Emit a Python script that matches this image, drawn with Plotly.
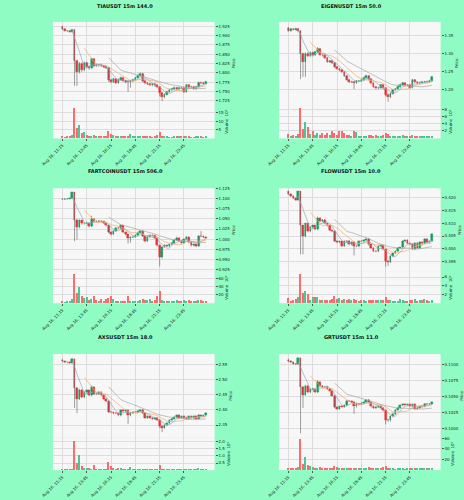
import plotly.graph_objects as go
import pandas as pd

# ---------------- data ----------------
titles = ["TIAUSDT 15m 144.0", "EIGENUSDT 15m 50.0", "FARTCOINUSDT 15m 506.0",
          "FLOWUSDT 15m 10.0", "AXSUSDT 15m 18.0", "GRTUSDT 15m 11.0"]
time_labels = ["Aug 16, 11:15", "Aug 16, 13:45", "Aug 16, 16:15",
               "Aug 16, 18:45", "Aug 16, 21:15", "Aug 16, 23:45"]
time_label_idx = [0, 10, 20, 30, 40, 50]

tia_open = [1.923,1.917,1.913,1.912,1.910,1.915,1.831,1.803,1.825,1.807,1.827,1.816,1.812,1.837,1.819,1.822,1.820,1.819,1.816,1.813,1.780,1.776,1.783,1.774,1.782,1.787,1.779,1.776,1.775,1.778,1.782,1.787,1.792,1.798,1.778,1.773,1.771,1.767,1.770,1.767,1.762,1.745,1.736,1.742,1.749,1.754,1.756,1.760,1.756,1.760,1.759,1.749,1.767,1.761,1.762,1.758,1.762,1.774,1.773,1.771]
tia_close = [1.917,1.913,1.912,1.910,1.915,1.831,1.803,1.825,1.807,1.827,1.816,1.812,1.837,1.819,1.822,1.820,1.819,1.816,1.813,1.780,1.776,1.783,1.774,1.782,1.787,1.779,1.776,1.775,1.778,1.782,1.787,1.792,1.798,1.778,1.773,1.771,1.767,1.770,1.767,1.762,1.745,1.736,1.742,1.749,1.754,1.756,1.760,1.756,1.760,1.759,1.749,1.767,1.761,1.762,1.758,1.762,1.774,1.773,1.771,1.776]
tia_high = [1.926,1.919,1.915,1.914,1.918,1.917,1.835,1.829,1.828,1.830,1.830,1.820,1.840,1.839,1.825,1.824,1.823,1.821,1.818,1.815,1.783,1.786,1.785,1.785,1.790,1.789,1.781,1.779,1.781,1.784,1.789,1.794,1.801,1.800,1.780,1.775,1.773,1.773,1.772,1.769,1.764,1.748,1.745,1.752,1.756,1.759,1.763,1.762,1.763,1.762,1.761,1.770,1.769,1.765,1.764,1.765,1.777,1.777,1.775,1.779]
tia_low = [1.915,1.911,1.910,1.908,1.908,1.765,1.765,1.798,1.802,1.804,1.812,1.808,1.810,1.815,1.816,1.817,1.816,1.813,1.810,1.776,1.772,1.773,1.770,1.771,1.780,1.776,1.772,1.749,1.760,1.775,1.780,1.785,1.790,1.775,1.769,1.767,1.764,1.764,1.763,1.758,1.737,1.724,1.732,1.740,1.747,1.751,1.754,1.753,1.754,1.756,1.746,1.747,1.758,1.758,1.755,1.755,1.760,1.770,1.768,1.769]
tia_vol = [0.8,0.5,0.7,1.0,1.6,18,5.6,7.6,3.0,3.6,1.6,1.4,1.2,1.8,0.8,1.0,1.0,0.9,1.0,4.0,2.4,1.6,1.4,1.0,1.2,0.8,0.7,0.8,2.2,1.0,0.6,0.8,0.8,1.2,1.0,0.7,0.6,0.5,0.8,1.5,3.6,1.2,0.8,0.6,0.5,0.5,0.7,0.8,0.6,0.8,0.9,1.0,0.6,0.5,0.5,0.6,1.0,0.6,0.5,0.7]

eigen_open = [1.369,1.362,1.367,1.366,1.368,1.361,1.299,1.276,1.299,1.293,1.302,1.294,1.304,1.313,1.296,1.294,1.287,1.276,1.278,1.273,1.262,1.257,1.253,1.248,1.237,1.227,1.220,1.220,1.218,1.222,1.223,1.225,1.232,1.237,1.228,1.216,1.207,1.202,1.204,1.211,1.202,1.185,1.179,1.188,1.197,1.200,1.207,1.213,1.216,1.211,1.211,1.204,1.225,1.220,1.216,1.218,1.220,1.220,1.221,1.223]
eigen_close = [1.362,1.367,1.366,1.368,1.361,1.299,1.276,1.299,1.293,1.302,1.294,1.304,1.313,1.296,1.294,1.287,1.276,1.278,1.273,1.262,1.257,1.253,1.248,1.237,1.227,1.220,1.220,1.218,1.222,1.223,1.225,1.232,1.237,1.228,1.216,1.207,1.202,1.204,1.211,1.202,1.185,1.179,1.188,1.197,1.200,1.207,1.213,1.216,1.211,1.211,1.204,1.225,1.220,1.216,1.218,1.220,1.220,1.221,1.223,1.234]
eigen_high = [1.372,1.369,1.369,1.371,1.370,1.364,1.302,1.302,1.303,1.305,1.304,1.307,1.317,1.315,1.299,1.296,1.289,1.281,1.280,1.275,1.264,1.259,1.255,1.250,1.239,1.229,1.223,1.222,1.225,1.225,1.228,1.234,1.240,1.239,1.230,1.218,1.209,1.207,1.214,1.213,1.204,1.188,1.191,1.200,1.203,1.210,1.216,1.219,1.218,1.214,1.213,1.228,1.227,1.222,1.221,1.223,1.223,1.224,1.226,1.237]
eigen_low = [1.360,1.360,1.364,1.364,1.358,1.228,1.234,1.234,1.289,1.290,1.291,1.292,1.301,1.293,1.291,1.284,1.273,1.273,1.270,1.259,1.254,1.250,1.245,1.234,1.224,1.217,1.217,1.200,1.215,1.219,1.220,1.223,1.229,1.225,1.213,1.204,1.199,1.199,1.201,1.199,1.180,1.165,1.175,1.185,1.194,1.198,1.204,1.210,1.208,1.208,1.201,1.202,1.217,1.213,1.213,1.215,1.217,1.218,1.218,1.220]
eigen_vol = [1.0,0.5,0.8,0.6,1.0,8.5,2.4,4.4,3.0,1.0,1.8,0.8,1.4,0.8,1.4,0.8,1.4,0.8,1.8,1.2,0.9,1.8,2.0,1.4,0.8,0.9,0.5,1.8,1.6,0.6,0.6,0.6,0.6,0.8,0.8,0.6,0.8,0.6,0.6,0.7,1.2,1.0,0.5,0.5,0.6,0.4,0.6,0.7,0.6,0.5,0.6,0.8,0.6,0.5,0.5,0.6,0.5,0.5,0.6,0.5]

fart_open = [1.0995,1.0985,1.099,1.100,1.101,1.1155,1.048,1.0295,1.0467,1.0385,1.0388,1.040,1.032,1.050,1.0442,1.044,1.0445,1.0434,1.040,1.0336,1.0172,1.0114,1.0196,1.0278,1.027,1.0336,1.0172,1.0114,1.0032,1.0049,1.0057,1.009,1.0155,1.0196,1.0073,0.995,1.0057,1.009,1.0088,1.0032,0.9844,0.954,0.981,0.9844,0.9827,0.9868,0.9909,0.9975,1.0032,0.995,0.9909,0.9991,1.0057,0.9926,0.9844,0.9868,0.9827,1.0073,1.007,1.0057]
fart_close = [1.0985,1.099,1.100,1.101,1.1155,1.048,1.0295,1.0467,1.0385,1.0388,1.040,1.032,1.050,1.0442,1.044,1.0445,1.0434,1.040,1.0336,1.0172,1.0114,1.0196,1.0278,1.027,1.0336,1.0172,1.0114,1.0032,1.0049,1.0057,1.009,1.0155,1.0196,1.0073,0.995,1.0057,1.009,1.0088,1.0032,0.9844,0.954,0.981,0.9844,0.9827,0.9868,0.9909,0.9975,1.0032,0.995,0.9909,0.9991,1.0057,0.9926,0.9844,0.9868,0.9827,1.0073,1.007,1.0057,1.0032]
fart_high = [1.101,1.101,1.102,1.103,1.118,1.1165,1.050,1.049,1.048,1.041,1.043,1.042,1.058,1.052,1.046,1.047,1.046,1.045,1.042,1.035,1.019,1.022,1.030,1.030,1.036,1.035,1.019,1.013,1.007,1.008,1.011,1.018,1.022,1.021,1.009,1.008,1.011,1.011,1.010,1.005,0.986,0.983,0.987,0.986,0.989,0.993,1.000,1.006,1.005,0.997,1.002,1.008,1.007,0.994,0.989,0.988,1.010,1.0196,1.009,1.007]
fart_low = [1.097,1.097,1.098,1.099,1.099,0.995,0.999,1.027,1.036,1.036,1.037,1.029,1.030,1.042,1.042,1.042,1.041,1.038,1.031,1.015,1.009,1.010,1.018,1.025,1.025,1.015,1.009,0.989,0.991,1.003,1.004,1.007,1.014,1.005,0.992,0.993,1.004,1.006,1.001,0.982,0.932,0.952,0.979,0.980,0.981,0.985,0.989,0.996,0.993,0.989,0.989,0.997,0.990,0.982,0.982,0.980,0.981,1.005,1.003,1.001]
fart_vol = [3,1,2,2,8,72,24,40,16,12,14,6,8,16,6,4,8,4,8,12,16,8,4,4,4,4,4,16,4,2,2,4,6,8,6,6,8,4,6,16,28,6,4,4,3,2,4,6,4,3,6,4,6,4,3,2,6,6,4,4]

flow_open = [0.4222,0.4213,0.4205,0.4196,0.4190,0.4222,0.4090,0.4049,0.4098,0.4068,0.4085,0.4090,0.4075,0.4119,0.4107,0.4113,0.4098,0.4090,0.4072,0.4068,0.4030,0.4026,0.4029,0.4011,0.4030,0.4028,0.4017,0.4026,0.4011,0.4010,0.4030,0.4029,0.4034,0.4039,0.4017,0.4004,0.3991,0.3990,0.4011,0.4013,0.3998,0.3953,0.3949,0.3972,0.3982,0.3991,0.4004,0.4005,0.4030,0.4034,0.4021,0.4017,0.3998,0.4023,0.4004,0.4026,0.4021,0.4039,0.4026,0.4030]
flow_close = [0.4213,0.4205,0.4196,0.4190,0.4222,0.4090,0.4049,0.4098,0.4068,0.4085,0.4090,0.4075,0.4119,0.4107,0.4113,0.4098,0.4090,0.4072,0.4068,0.4030,0.4026,0.4029,0.4011,0.4030,0.4028,0.4017,0.4026,0.4011,0.4010,0.4030,0.4029,0.4034,0.4039,0.4017,0.4004,0.3991,0.3990,0.4011,0.4013,0.3998,0.3953,0.3949,0.3972,0.3982,0.3991,0.4004,0.4005,0.4030,0.4034,0.4021,0.4017,0.3998,0.4023,0.4004,0.4026,0.4021,0.4039,0.4026,0.4030,0.4055]
flow_high = [0.4225,0.4216,0.4208,0.4199,0.4225,0.4224,0.4093,0.4101,0.4100,0.4088,0.4093,0.4093,0.4126,0.4122,0.4116,0.4116,0.4101,0.4093,0.4075,0.4071,0.4033,0.4032,0.4032,0.4033,0.4033,0.4035,0.4029,0.4029,0.4014,0.4033,0.4033,0.4037,0.4042,0.4042,0.4020,0.4007,0.3994,0.4014,0.4016,0.4016,0.4001,0.3956,0.3975,0.3985,0.3994,0.4007,0.4008,0.4033,0.4037,0.4037,0.4024,0.4020,0.4026,0.4026,0.4029,0.4029,0.4042,0.4042,0.4033,0.4062]
flow_low = [0.4210,0.4202,0.4193,0.4187,0.4187,0.3979,0.3979,0.4045,0.4065,0.4065,0.4082,0.4072,0.4072,0.4104,0.4104,0.4095,0.4087,0.4069,0.4065,0.4027,0.4022,0.4022,0.4008,0.4008,0.4025,0.4014,0.4014,0.3975,0.4007,0.4007,0.4026,0.4026,0.4031,0.4014,0.4001,0.3988,0.3987,0.3987,0.4008,0.3995,0.3931,0.3935,0.3946,0.3969,0.3979,0.3988,0.4001,0.4002,0.4027,0.4018,0.4014,0.3995,0.3995,0.4001,0.4001,0.4018,0.4018,0.4023,0.4023,0.4027]
flow_vol = [1.2,0.4,0.8,1.0,1.4,6.8,2.2,2.8,2.0,0.8,1.4,1.4,1.4,0.6,0.6,0.8,0.6,0.6,1.0,1.6,1.0,1.2,0.8,1.0,0.6,1.0,0.8,1.0,0.8,0.5,0.6,0.6,0.4,0.8,0.6,0.8,0.8,0.6,0.8,0.8,1.4,0.8,0.6,0.4,0.5,0.5,0.9,0.6,0.4,0.5,0.7,0.8,1.0,0.5,0.8,0.7,1.0,0.6,0.5,0.8]

axs_open = [2.5665,2.561,2.5577,2.557,2.5566,2.5687,2.473,2.4367,2.4664,2.4422,2.4587,2.4642,2.4477,2.4752,2.4532,2.453,2.4587,2.4477,2.4367,2.429,2.3927,2.3916,2.3894,2.3892,2.3817,2.3982,2.3949,2.398,2.3817,2.3894,2.3927,2.3925,2.396,2.4004,2.3894,2.374,2.3784,2.374,2.3707,2.374,2.3674,2.3454,2.341,2.3487,2.3564,2.3652,2.3707,2.3762,2.3817,2.374,2.3784,2.374,2.3707,2.3784,2.374,2.3784,2.3707,2.3817,2.3784,2.3817]
axs_close = [2.561,2.5577,2.557,2.5566,2.5687,2.473,2.4367,2.4664,2.4422,2.4587,2.4642,2.4477,2.4752,2.4532,2.453,2.4587,2.4477,2.4367,2.429,2.3927,2.3916,2.3894,2.3892,2.3817,2.3982,2.3949,2.398,2.3817,2.3894,2.3927,2.3925,2.396,2.4004,2.3894,2.374,2.3784,2.374,2.3707,2.374,2.3674,2.3454,2.341,2.3487,2.3564,2.3652,2.3707,2.3762,2.3817,2.374,2.3784,2.374,2.3707,2.3784,2.374,2.3784,2.3707,2.3817,2.3784,2.3817,2.3894]
axs_high = [2.569,2.563,2.560,2.560,2.572,2.570,2.476,2.470,2.468,2.462,2.467,2.467,2.481,2.478,2.456,2.461,2.461,2.450,2.439,2.431,2.395,2.394,2.392,2.392,2.401,2.401,2.401,2.400,2.392,2.395,2.396,2.399,2.403,2.403,2.392,2.381,2.381,2.377,2.377,2.377,2.370,2.348,2.352,2.359,2.368,2.373,2.379,2.384,2.384,2.381,2.381,2.377,2.381,2.381,2.381,2.381,2.385,2.384,2.384,2.393]
axs_low = [2.558,2.555,2.554,2.553,2.554,2.407,2.3894,2.433,2.439,2.439,2.456,2.445,2.445,2.450,2.450,2.450,2.445,2.434,2.426,2.390,2.389,2.386,2.386,2.379,2.379,2.392,2.392,2.354,2.379,2.387,2.390,2.390,2.393,2.387,2.371,2.371,2.371,2.368,2.368,2.364,2.340,2.3267,2.338,2.346,2.354,2.363,2.368,2.374,2.371,2.371,2.371,2.368,2.368,2.371,2.371,2.368,2.368,2.376,2.376,2.379]
axs_vol = [0.05,0.08,0.1,0.08,0.1,2.1,0.55,1.1,0.3,0.2,0.15,0.15,0.12,0.4,0.1,0.1,0.12,0.1,0.12,0.6,0.3,0.15,0.1,0.2,0.2,0.1,0.05,0.1,0.25,0.05,0.05,0.08,0.1,0.12,0.1,0.08,0.06,0.08,0.06,0.12,0.35,0.1,0.05,0.06,0.05,0.06,0.05,0.06,0.06,0.05,0.06,0.05,0.05,0.06,0.08,0.05,0.2,0.1,0.05,0.06]

grt_open = [0.11079,0.11052,0.11037,0.11010,0.11008,0.11105,0.10654,0.10529,0.10670,0.10565,0.10618,0.10620,0.10565,0.10722,0.10670,0.10654,0.10652,0.10618,0.10592,0.10513,0.10330,0.10304,0.10340,0.10338,0.10356,0.10424,0.10422,0.10408,0.10340,0.10382,0.10372,0.10393,0.10408,0.10445,0.10408,0.10340,0.10319,0.10330,0.10340,0.10319,0.10277,0.10131,0.10120,0.10183,0.10225,0.10288,0.10319,0.10356,0.10372,0.10370,0.10372,0.10340,0.10372,0.10304,0.10319,0.10340,0.10342,0.10382,0.10380,0.10382]
grt_close = [0.11052,0.11037,0.11010,0.11008,0.11105,0.10654,0.10529,0.10670,0.10565,0.10618,0.10620,0.10565,0.10722,0.10670,0.10654,0.10652,0.10618,0.10592,0.10513,0.10330,0.10304,0.10340,0.10338,0.10356,0.10424,0.10422,0.10408,0.10340,0.10382,0.10372,0.10393,0.10408,0.10445,0.10408,0.10340,0.10319,0.10330,0.10340,0.10319,0.10277,0.10131,0.10120,0.10183,0.10225,0.10288,0.10319,0.10356,0.10372,0.10370,0.10372,0.10340,0.10372,0.10304,0.10319,0.10340,0.10342,0.10382,0.10380,0.10382,0.10408]
grt_high = [0.11095,0.11065,0.11045,0.11020,0.11120,0.11110,0.10665,0.10685,0.10680,0.10630,0.10635,0.10630,0.10760,0.10735,0.10680,0.10665,0.10665,0.10630,0.10605,0.10525,0.10345,0.10355,0.10355,0.10370,0.10440,0.10440,0.10435,0.10420,0.10395,0.10395,0.10405,0.10420,0.10460,0.10460,0.10420,0.10355,0.10345,0.10355,0.10355,0.10330,0.10290,0.10145,0.10195,0.10240,0.10300,0.10335,0.10370,0.10385,0.10385,0.10385,0.10385,0.10385,0.10385,0.10335,0.10355,0.10355,0.10395,0.10395,0.10395,0.10420]
grt_low = [0.11040,0.11025,0.11000,0.10995,0.10995,0.09921,0.10319,0.10515,0.10550,0.10550,0.10605,0.10550,0.10550,0.10655,0.10640,0.10640,0.10605,0.10580,0.10500,0.10315,0.10290,0.10290,0.10325,0.10325,0.10345,0.10410,0.10395,0.10225,0.10325,0.10360,0.10360,0.10380,0.10395,0.10395,0.10325,0.10305,0.10305,0.10315,0.10305,0.10260,0.10058,0.10100,0.10105,0.10170,0.10210,0.10275,0.10305,0.10345,0.10355,0.10355,0.10325,0.10325,0.10290,0.10290,0.10305,0.10325,0.10330,0.10365,0.10365,0.10370]
grt_vol = [2,2,3,4,5,60,12,24,10,8,5,4,3,6,3,4,4,3,4,8,5,3,3,2,3,2,2,3,4,2,2,2,2,5,3,2,3,2,3,5,7,2,2,2,1,2,2,2,1,2,3,2,3,2,2,2,3,2,2,2]

# price / volume axis ticks per chart
price_ticks = [
    [1.725, 1.750, 1.775, 1.800, 1.825, 1.850, 1.875, 1.900, 1.925],
    [1.20, 1.25, 1.30, 1.35],
    [0.925, 0.950, 0.975, 1.000, 1.025, 1.050, 1.075, 1.100, 1.125],
    [0.395, 0.400, 0.405, 0.410, 0.415, 0.420],
    [2.35, 2.40, 2.45, 2.50, 2.55],
    [0.1000, 0.1025, 0.1050, 0.1075, 0.1100],
]
volume_ticks = [[5, 10, 15], [2, 4, 6, 8], [20, 40, 60], [2, 4, 6], [0.5, 1.0, 1.5, 2.0], [20, 40, 60]]
ma_windows = [5, 10, 20]

# ---------------- styling ----------------
BG = "#8ffcc4"
FACE = "#f7f7f7"
GRID = "#dcdcdc"
UP, DOWN = "#00b060", "#fe3032"
VUP, VDOWN = "#4dc790", "#fd6b6c"
WICK = "#606060"
MA_COLORS = ["#8fa9c0", "#f2ad6a", "#a6a6a6"]
FONT = "DejaVu Sans"

price_fmt = [".3f", ".2f", ".3f", ".3f", ".2f", ".4f"]
volume_fmt = ["d", "d", "d", "d", ".1f", "d"]
price_range = [[1.7134, 1.9366], [1.1556, 1.387], [0.9188, 1.126], [0.3911, 0.4235], [2.308, 2.585], [0.09848, 0.11168]]
volume_range = [[-0.3, 19.6], [-0.2, 9.3], [-2, 77], [-0.1, 7.2], [0, 2.28], [-1, 61.5]]

W, H = 464, 500
cols = [(42, 208), (274, 440)]
rows = [(20, 103.5, 137), (187, 271, 302.5), (353.5, 437.5, 470)]
title_y = [4, 170, 336]
col_center = [116, 348]

charts = [
    (tia_open, tia_high, tia_low, tia_close, tia_vol),
    (eigen_open, eigen_high, eigen_low, eigen_close, eigen_vol),
    (fart_open, fart_high, fart_low, fart_close, fart_vol),
    (flow_open, flow_high, flow_low, flow_close, flow_vol),
    (axs_open, axs_high, axs_low, axs_close, axs_vol),
    (grt_open, grt_high, grt_low, grt_close, grt_vol),
]

fig = go.Figure()
layout = {}
annotations = []
TXT = "#222222"
tickfont = dict(family=FONT, size=4, color=TXT)
labfont = dict(family=FONT, size=4, color=TXT)

for k, (o, h, l, c, v) in enumerate(charts):
    assert len(o) == len(h) == len(l) == len(c) == len(v) == 60, k
    r, cc = divmod(k, 2)
    a, b = 2 * k + 1, 2 * k + 2
    xa, ya, xb, yb = f"x{a}", f"y{a}", f"x{b}", f"y{b}"
    idx = list(range(len(c)))
    up = [ci >= oi for oi, ci in zip(o, c)]

    # wicks
    wx, wy = [], []
    for i in idx:
        wx += [i, i, None]
        wy += [l[i], h[i], None]
    fig.add_trace(go.Scatter(x=wx, y=wy, mode="lines", line=dict(color=WICK, width=0.6),
                             xaxis=xa, yaxis=ya, showlegend=False, hoverinfo="skip"))
    # bodies
    bcol = [UP if u else DOWN for u in up]
    fig.add_trace(go.Bar(x=idx, y=[ci - oi for oi, ci in zip(o, c)], base=o, width=0.7,
                         marker=dict(color=bcol, line=dict(color=bcol, width=0.4)),
                         xaxis=xa, yaxis=ya, showlegend=False))
    # moving averages
    s = pd.Series(c)
    for w, col in zip(ma_windows, MA_COLORS):
        fig.add_trace(go.Scatter(x=idx, y=s.rolling(w).mean(), mode="lines",
                                 line=dict(color=col, width=0.7),
                                 xaxis=xa, yaxis=ya, showlegend=False, hoverinfo="skip"))
    # volume
    vcol = [VUP if u else VDOWN for u in up]
    fig.add_trace(go.Bar(x=idx, y=v, width=0.6, marker=dict(color=vcol, line=dict(width=0)),
                         xaxis=xb, yaxis=yb, showlegend=False))

    x0, x1 = cols[cc]
    top, mid, bot = rows[r]
    xdom = [x0 / W, x1 / W]
    common_x = dict(domain=xdom, range=[-3.9, 62.6], tickvals=time_label_idx,
                    showgrid=True, gridcolor=GRID, gridwidth=0.5, zeroline=False,
                    showline=False)
    layout[f"xaxis{a}"] = dict(common_x, anchor=ya, showticklabels=False, matches=xb, ticks="")
    layout[f"xaxis{b}"] = dict(common_x, anchor=yb, ticktext=time_labels, tickangle=-45,
                               ticks="outside", ticklen=2, tickwidth=0.5, tickcolor="#555555",
                               tickfont=tickfont)
    layout[f"yaxis{a}"] = dict(domain=[1 - mid / H, 1 - top / H], anchor=xa, side="right",
                               range=price_range[k], tickvals=price_ticks[k], tickformat=price_fmt[k],
                               showgrid=True, gridcolor=GRID, gridwidth=0.5, zeroline=False,
                               ticks="outside", ticklen=2, tickwidth=0.5, tickcolor="#555555",
                               tickfont=tickfont,
                               title=dict(text="Price", font=labfont, standoff=2))
    layout[f"yaxis{b}"] = dict(domain=[1 - bot / H, 1 - mid / H], anchor=xb, side="right",
                               range=volume_range[k], tickvals=volume_ticks[k], tickformat=volume_fmt[k],
                               showgrid=True, gridcolor=GRID, gridwidth=0.5, zeroline=False,
                               ticks="outside", ticklen=2, tickwidth=0.5, tickcolor="#555555",
                               tickfont=tickfont,
                               title=dict(text="Volume  10\u2075", font=labfont, standoff=2))
    annotations.append(dict(text=f"<b>{titles[k]}</b>", x=col_center[cc] / W, y=1 - title_y[r] / H,
                            xref="paper", yref="paper", showarrow=False, xanchor="center", yanchor="middle",
                            font=dict(family=FONT, size=5, color="#111111")))

fig.update_layout(width=W, height=H, margin=dict(l=0, r=0, t=0, b=0),
                  paper_bgcolor=BG, plot_bgcolor=FACE, bargap=0, showlegend=False,
                  annotations=annotations, **layout)
fig.write_html("out.html")
